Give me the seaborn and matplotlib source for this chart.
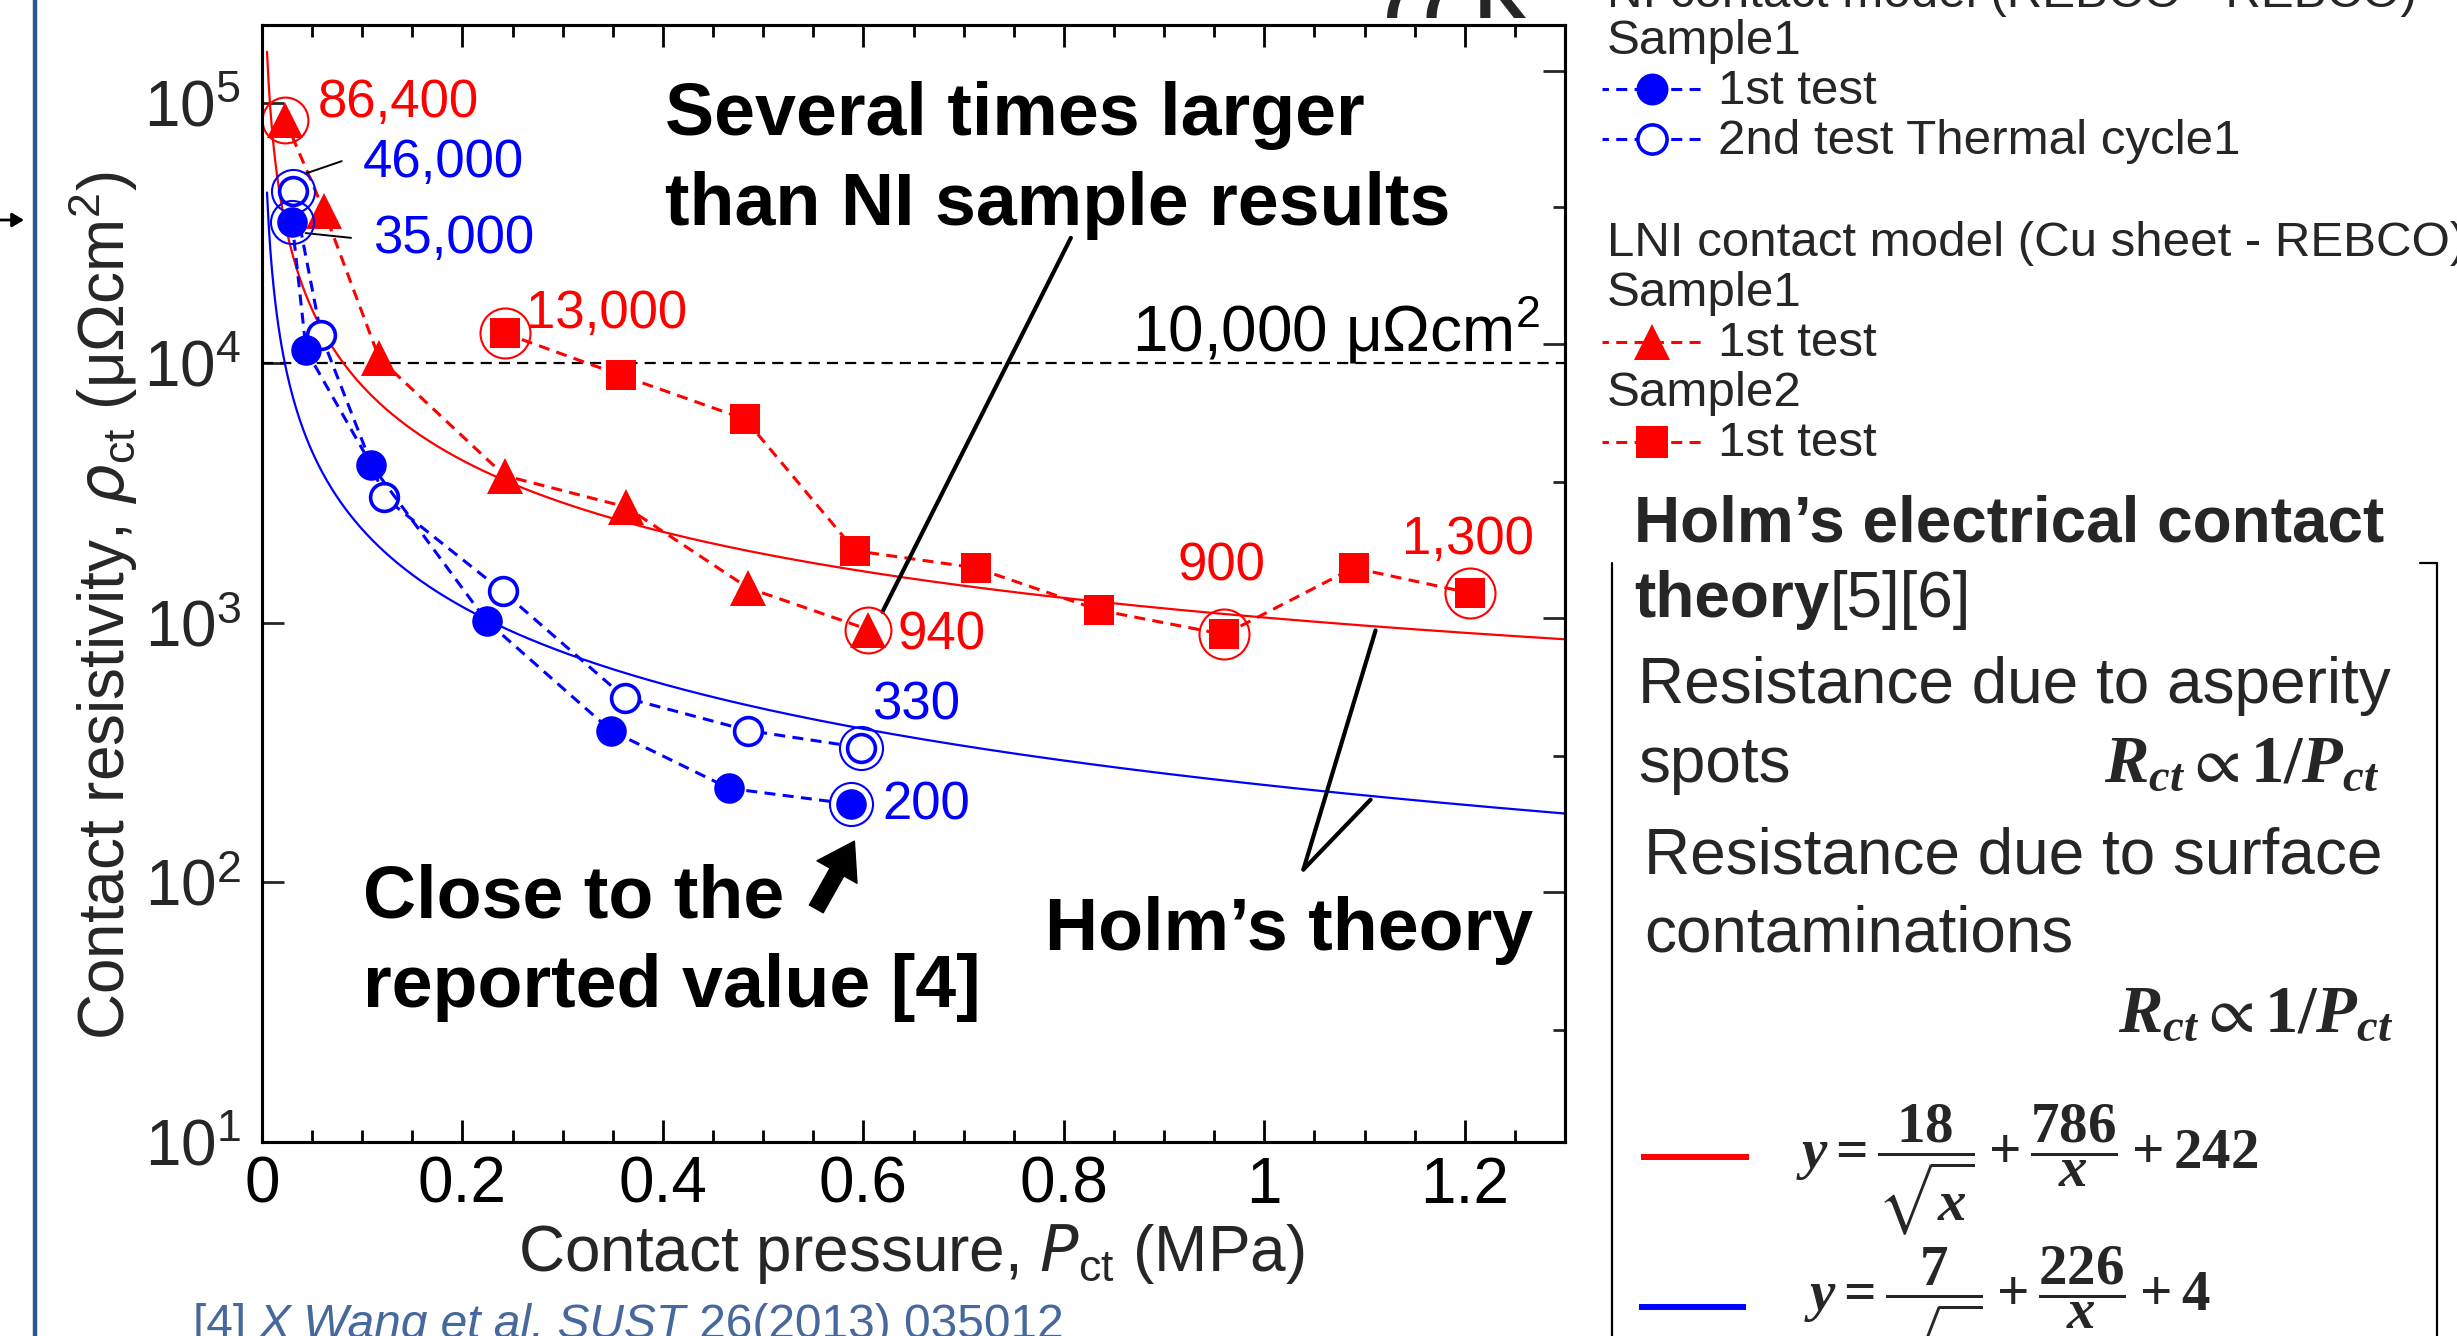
import numpy as np
import matplotlib
matplotlib.use("Agg")
import matplotlib.pyplot as plt
import seaborn as sns
from matplotlib.lines import Line2D
from matplotlib.ticker import MultipleLocator, LogLocator, NullLocator

# ---------------- data ----------------
ni_s1_t1_x = [0.030, 0.044, 0.109, 0.224, 0.348, 0.466, 0.588]
ni_s1_t1_y = [35000, 11200, 4050, 1015, 384, 230, 200]
ni_s1_t2_x = [0.031, 0.059, 0.122, 0.240, 0.362, 0.485, 0.598]
ni_s1_t2_y = [46000, 12800, 3035, 1320, 514, 384, 330]
lni_s1_x = [0.023, 0.062, 0.117, 0.242, 0.363, 0.485, 0.605]
lni_s1_y = [86400, 38400, 10400, 3680, 2790, 1360, 940]
lni_s2_x = [0.242, 0.358, 0.482, 0.592, 0.712, 0.835, 0.960, 1.089, 1.205]
lni_s2_y = [13000, 8960, 6070, 1890, 1625, 1117, 900, 1625, 1300]

# Holm fits printed on the chart: y = a/sqrt(x) + b/x + c
fit_lni = [18, 786, 242]
fit_ni = [7, 226, 4]
fit_x_range = [0.005, 1.3]

threshold = 10000
x_ticks = [0, 0.2, 0.4, 0.6, 0.8, 1.0, 1.2]
x_tick_labels = ["0", "0.2", "0.4", "0.6", "0.8", "1", "1.2"]

# highlighted (circled) points
hl_ni1 = [0, 6]
hl_ni2 = [0, 6]
hl_lni1 = [0, 6]
hl_lni2 = [0, 6, 8]

# ---------------- style ----------------
W, H = 2457, 1336
sns.set_style("ticks")
plt.rcParams["font.family"] = ["Liberation Sans", "DejaVu Sans"]
plt.rcParams["mathtext.fontset"] = "custom"
plt.rcParams["mathtext.rm"] = "Liberation Serif:bold"
plt.rcParams["mathtext.it"] = "Liberation Serif:italic:bold"
plt.rcParams["mathtext.bf"] = "Liberation Serif:bold"
plt.rcParams["mathtext.fallback"] = "stix"
plt.rcParams["axes.linewidth"] = 2.2
plt.rcParams["axes.edgecolor"] = "black"


def fx(x):
    return x / W


def fy(y):
    return 1 - y / H


fig = plt.figure(figsize=(W / 100, H / 100), dpi=100)
fig.patch.set_facecolor("white")
ax = fig.add_axes([fx(262), fy(1142), (1565 - 262) / W, (1142 - 25) / H])
ax.set_facecolor("white")

RED = "#ff0000"
BLUE = "#0000ff"

# fitted Holm curves
xf = np.linspace(fit_x_range[0], fit_x_range[1], 800)


def holm(c, x):
    return c[0] / np.sqrt(x) + c[1] / x + c[2]


sns.lineplot(x=xf, y=holm(fit_lni, xf), ax=ax, color=RED, lw=1.6, zorder=2,
             estimator=None, sort=False)
sns.lineplot(x=xf, y=holm(fit_ni, xf), ax=ax, color=BLUE, lw=1.6, zorder=2,
             estimator=None, sort=False)

ax.axhline(threshold, color="black", lw=1.6, ls=(0, (5, 3.2)), zorder=1)

DASH = (0, (3.6, 2.4))
common = dict(ax=ax, estimator=None, sort=False, linestyle=DASH, lw=2.2, zorder=3)
sns.lineplot(x=lni_s2_x, y=lni_s2_y, color=RED, marker="s", markersize=22,
             mfc=RED, mec=RED, mew=0, **common)
sns.lineplot(x=lni_s1_x, y=lni_s1_y, color=RED, marker="^", markersize=26,
             mfc=RED, mec=RED, mew=0, **common)
sns.lineplot(x=ni_s1_t2_x, y=ni_s1_t2_y, color=BLUE, marker="o", markersize=20,
             mfc="white", mec=BLUE, mew=2.6, **common)
sns.lineplot(x=ni_s1_t1_x, y=ni_s1_t1_y, color=BLUE, marker="o", markersize=22,
             mfc=BLUE, mec=BLUE, mew=0, **common)


def ring(xs, ys, idx, color, size):
    ax.plot([xs[i] for i in idx], [ys[i] for i in idx], ls="none", marker="o",
            ms=size, mfc="none", mec=color, mew=1.5, zorder=5)


ring(lni_s1_x, lni_s1_y, hl_lni1, RED, 33)
ring(lni_s2_x, lni_s2_y, hl_lni2, RED, 36)
ring(ni_s1_t2_x, ni_s1_t2_y, hl_ni2, BLUE, 31)
ring(ni_s1_t1_x, ni_s1_t1_y, hl_ni1, BLUE, 31)

# axes
ax.set_yscale("log")
ax.set_xlim(0, 1.3)
ax.set_ylim(10, 2e5)
ax.set_xticks(x_ticks, x_tick_labels)
ax.xaxis.set_minor_locator(MultipleLocator(0.05))
ax.yaxis.set_major_locator(LogLocator(base=10, numticks=10))
ax.yaxis.set_minor_locator(NullLocator())
ax.tick_params(axis="x", which="both", direction="in", top=True, bottom=True,
               width=2, colors="black")
ax.tick_params(axis="x", which="major", length=16, labelsize=46, pad=10)
ax.tick_params(axis="x", which="minor", length=8.5)
ax.tick_params(axis="y", which="major", direction="in", length=16, width=2,
               left=True, right=False, labelsize=46, pad=15)
for s in ax.spines.values():
    s.set_visible(True)
    s.set_linewidth(2.2)

ax.set_xlabel(r"Contact pressure, $\mathit{P}_{\mathdefault{ct}}$ (MPa)", fontsize=46,
              math_fontfamily="dejavusans", va="center")
ax.xaxis.set_label_coords(0.498, -0.100)
ax.set_ylabel(r"Contact resistivity, $\mathit{\rho}_{\mathdefault{ct}}$ (μΩcm$^{\mathdefault{2}}$)",
              fontsize=46, math_fontfamily="dejavusans", va="center")
ax.yaxis.set_label_coords(-0.122, 0.48)

# right-hand spine ticks
ax2 = ax.twinx()
ax2.set_ylim(0, 1)
ax2.set_yticks([0.224, 0.469, 0.714, 0.959])
ax2.set_yticks([0.100, 0.346, 0.591, 0.837], minor=True)
ax2.tick_params(axis="y", which="major", direction="in", length=16, width=2, labelright=False)
ax2.tick_params(axis="y", which="minor", direction="in", length=8.5, width=2)
for s in ax2.spines.values():
    s.set_linewidth(2.2)

# value labels
lab = dict(fontsize=38, va="center", zorder=6)
ax.text(0.056, 1.0e5, "86,400", color=RED, ha="left", **lab)
ax.text(0.101, 5.9e4, "46,000", color=BLUE, ha="left", **lab)
ax.text(0.111, 3.0e4, "35,000", color=BLUE, ha="left", **lab)
ax.text(0.263, 1.54e4, "13,000", color=RED, ha="left", **lab)
ax.text(0.634, 895, "940", color=RED, ha="left", **lab)
ax.text(0.957, 1650, "900", color=RED, ha="center", **lab)
ax.text(1.203, 2080, "1,300", color=RED, ha="center", **lab)
ax.text(0.609, 480, "330", color=BLUE, ha="left", **lab)
ax.text(0.619, 197, "200", color=BLUE, ha="left", **lab)
ax.text(1.275, 1.34e4, "10,000 μΩcm$^{\\mathdefault{2}}$", color="black", ha="right",
        va="center", fontsize=46, math_fontfamily="dejavusans")


def seg(x0, y0, x1, y1, lw):
    ax.annotate("", xy=(x1, y1), xytext=(x0, y0),
                arrowprops=dict(arrowstyle="-", color="black", lw=lw, shrinkA=0, shrinkB=0),
                annotation_clip=False)


seg(0.0436, 5.36e4, 0.0795, 5.98e4, 1.4)
seg(0.0436, 3.16e4, 0.0888, 3.03e4, 1.4)
seg(0.807, 3.03e4, 0.619, 1100, 3)
seg(1.111, 933, 1.039, 112, 3)
seg(1.039, 112, 1.106, 208, 3)

ax.annotate("", xy=(0.591, 144), xytext=(0.553, 79),
            arrowprops=dict(arrowstyle="simple,head_length=0.85,head_width=1.1,tail_width=0.38",
                            mutation_scale=30, color="black", shrinkA=0, shrinkB=0))

bold = dict(fontsize=53, fontweight="bold", va="center", color="black", zorder=6)
ax.text(0.402, 8.95e4, "Several times larger", ha="left", **bold)
ax.text(0.402, 4.05e4, "than NI sample results", ha="left", **bold)
ax.text(0.101, 87, "Close to the", ha="left", **bold)
ax.text(0.101, 39.5, "reported value [4]", ha="left", **bold)
ax.text(1.025, 65, "Holm\u2019s theory", ha="center", **bold)

# ---------------- outside annotations ----------------
fig.text(fx(1377), fy(18), "77 K", fontsize=51, fontweight="bold", ha="left", va="baseline")

leg = dict(fontsize=35.5, ha="left", va="center")
fig.text(fx(1607), fy(7), "NI contact model (REBCO - REBCO)", fontsize=35.5, ha="left", va="baseline")
fig.text(fx(1607), fy(42), "Sample1", **leg)
fig.text(fx(1718), fy(91), "1st test", **leg)
fig.text(fx(1718), fy(141), "2nd test Thermal cycle1", **leg)
fig.text(fx(1607), fy(243), "LNI contact model (Cu sheet - REBCO)", **leg)
fig.text(fx(1607), fy(293), "Sample1", **leg)
fig.text(fx(1718), fy(344), "1st test", **leg)
fig.text(fx(1607), fy(394), "Sample2", **leg)
fig.text(fx(1718), fy(444), "1st test", **leg)


def handle(yc, color, marker, ms, mfc, mew):
    fig.add_artist(Line2D([fx(1602), fx(1703)], [fy(yc), fy(yc)], transform=fig.transFigure,
                          color=color, lw=2.2, ls=(1.5, (3.6, 2.4))))
    fig.add_artist(Line2D([fx(1652)], [fy(yc)], transform=fig.transFigure, ls="none",
                          marker=marker, ms=ms, mfc=mfc, mec=color, mew=mew))


handle(89, BLUE, "o", 23, BLUE, 0)
handle(139, BLUE, "o", 21, "white", 2.6)
handle(342, RED, "^", 26, RED, 0)
handle(442, RED, "s", 23, RED, 0)

# Holm box
for xs, ys in [([1612, 1612], [563, 1340]), ([2437, 2437], [563, 1340]), ([2420, 2437], [563, 563])]:
    fig.add_artist(Line2D([fx(v) for v in xs], [fy(v) for v in ys], transform=fig.transFigure,
                          color="black", lw=1.6))

fig.text(fx(1634), fy(525), "Holm\u2019s electrical contact", fontsize=46, fontweight="bold",
         ha="left", va="center")
t_th = fig.text(fx(1634), fy(600), "theory", fontsize=46, fontweight="bold", ha="left", va="center")
ax.annotate("[5][6]", xy=(1, fy(600)), xycoords=(t_th, "figure fraction"), fontsize=46,
            ha="left", va="center", annotation_clip=False)

body = dict(fontsize=46, ha="left", va="center")
fig.text(fx(1638), fy(686), "Resistance due to asperity", **body)
fig.text(fx(1638), fy(765), "spots", **body)
fig.text(fx(2379), fy(765), r"$R_{ct}\propto 1/P_{ct}$", fontsize=48, ha="right", va="center")
fig.text(fx(1644), fy(857), "Resistance due to surface", **body)
fig.text(fx(1644), fy(934), "contaminations", **body)
fig.text(fx(2393), fy(1015), r"$R_{ct}\propto 1/P_{ct}$", fontsize=48, ha="right", va="center")

for yc, x0, x1, color in [(1157, 1641, 1749, RED), (1307, 1639, 1746, BLUE)]:
    fig.add_artist(Line2D([fx(x0), fx(x1)], [fy(yc), fy(yc)], transform=fig.transFigure,
                          color=color, lw=4.3, solid_capstyle="butt"))


def eq(c):
    return rf"$y=\dfrac{{{c[0]}}}{{\sqrt{{x}}}}+\dfrac{{{c[1]}}}{{x}}+{c[2]}$"


fig.text(fx(1796), fy(1170), eq(fit_lni), fontsize=41, ha="left", va="center")
fig.text(fx(1804), fy(1312), eq(fit_ni), fontsize=41, ha="left", va="center")

# reference
REFC = "#46689c"
r1 = fig.text(fx(193), fy(1338), "[4] ", fontsize=34.5, color=REFC, ha="left", va="baseline")
r2 = ax.annotate("X Wang et al. SUST", xy=(1, fy(1338)), xycoords=(r1, "figure fraction"),
                 fontsize=34.5, color=REFC, style="italic", ha="left", va="baseline",
                 annotation_clip=False)
ax.annotate(" 26(2013) 035012", xy=(1, fy(1338)), xycoords=(r2, "figure fraction"),
            fontsize=34.5, color=REFC, ha="left", va="baseline", annotation_clip=False)

# slide decorations on the left
fig.add_artist(Line2D([fx(35), fx(35)], [0, 1], transform=fig.transFigure, color="#2b578c", lw=3.2))
ax.annotate("", xy=(fx(24), fy(220)), xytext=(fx(0), fy(220)), xycoords="figure fraction",
            textcoords="figure fraction",
            arrowprops=dict(arrowstyle="-|>,head_length=0.5,head_width=0.3", color="black",
                            lw=2, mutation_scale=14, shrinkA=0, shrinkB=0),
            annotation_clip=False)

fig.savefig("out.png", dpi=100, facecolor="white")
